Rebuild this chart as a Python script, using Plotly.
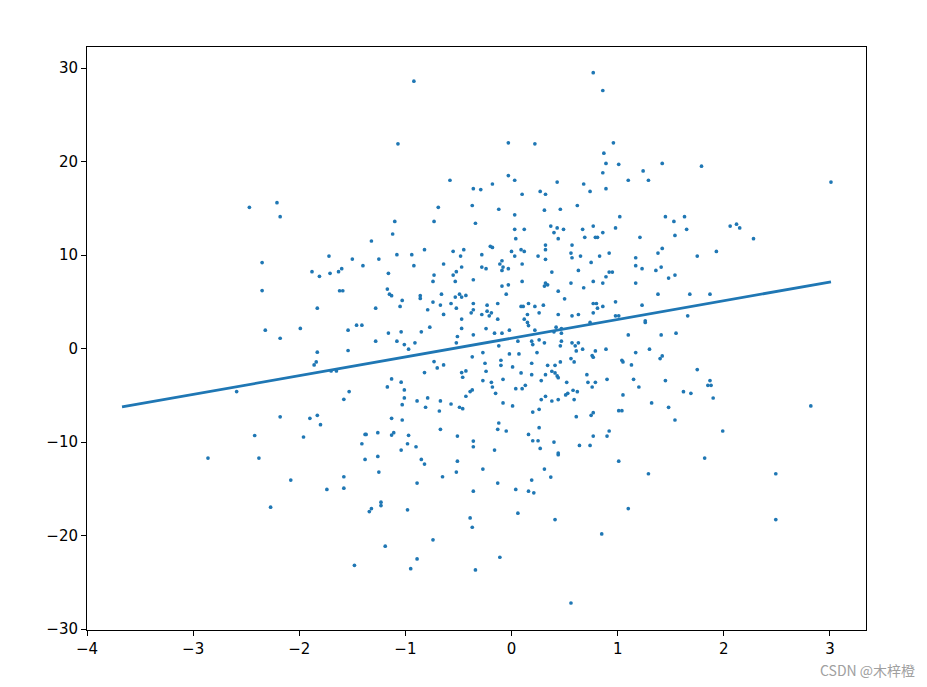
import plotly.graph_objects as go

# scatter samples (x, y kept in the same order)
x_vals = [
    -2.47, -2.21, -2.18,
    -0.92, -1.07, -0.58, -0.36, -0.69, -0.37, -1.10, -0.73, -0.34, -1.12, -1.32,
    0.77, 0.86, -0.03, 0.22, 0.96, 0.87, 0.89, 1.01, 1.42, 0.86,
    1.24, -0.03, 0.03, -0.18, -0.29, 0.43, 0.68, 1.10, 1.29, 0.10,
    0.27, 0.32, 0.74, 0.89, -0.12, 0.03, 0.31, 0.46, 0.62, 1.02,
    1.45, 0.03, 0.12, 0.37, 0.43, 0.40, 0.49, 0.67, 0.77, 0.86,
    0.98, 0.04, 0.44, 0.69, 0.79, 0.81, 1.21,
    1.79, 3.01, 1.53, 1.63, 1.65, 1.54, 2.06, 2.12, 2.15, 2.28,
    -2.35, -2.35, -2.32, -2.18, -2.59, -2.18, -2.42,
    -1.72, -1.50, -1.25, -1.08, -0.94, -0.82, -0.55, -0.45, -0.48, -1.88,
    -1.81, -1.71, -1.63, -1.60, -1.40, -1.16, -0.92, -0.64, -0.73, -0.74,
    -0.47, -0.52, -0.55, -0.53, -0.36, -1.62, -1.59, -1.17, -1.15, -1.13,
    -0.86, -0.86, -0.66, -0.49, -0.47, -0.53, -0.43, -1.03, -1.05, -0.74,
    -0.67, -0.57, -0.36, -0.52, -0.79, -0.64, -1.83, -1.28, -0.36, -0.38,
    -0.47, -0.47, -1.46, -1.41, -1.99, -1.54, -1.16, -1.04, -0.85, -0.77,
    -0.51, -1.28, -1.08, -1.01, -0.91, -0.52, -0.97, -1.83, -1.54, -0.36,
    -1.84, -1.86, -0.37, -0.73, -0.70, -0.64, -0.43, -0.47, -0.46, -0.82,
    -1.70, -1.65, -1.13, -1.04, -1.17, -1.01, -1.01, -1.03, -1.53, -1.58,
    -0.89, -0.79, -0.67, -0.57, -0.49, -0.46, -0.81, -0.68, -0.37, -0.39,
    -0.43, -1.90, -1.83, -1.80, -1.13, -1.03, -0.67, -1.38, -1.37, -1.26,
    -1.13, -1.11, -0.97, -0.51, -1.96,
    -0.20, -0.18, 0.32, 0.57, -0.28, 0.00, 0.03, 0.09, 0.12, 0.25,
    0.32, 0.56, 0.57, 0.65, 0.83, 0.92, 1.17, 1.38, 1.42, 0.32,
    -0.09, 0.75, -0.11, -0.08, -0.03, -0.09, -0.28, -0.24, 0.10, 0.38,
    0.63, 1.17, 1.23, 1.36, 1.41, 0.92, 0.95, 0.89, 1.48, 0.77,
    0.56, 0.86, 0.68, 1.17, 0.32, 0.34, 0.31, -0.03, -0.09, 0.10,
    -0.05, 0.44, 0.50, 1.38, 0.98, 0.77, 0.80, 0.86, 0.81, 1.23,
    -0.13, -0.23, 0.09, 0.11, 0.16, 0.22, 0.30, 0.26, -0.23, -0.28,
    -0.21, -0.19, 0.44, 0.57, 0.63, 0.77, 0.15, -0.13, 0.12, 0.15,
    0.16, -0.24, -0.02, 0.22, -0.16, -0.09, 0.98, 1.01, 1.26, 1.26,
    1.10, 1.41, 0.42, 0.47, 0.40, 0.47, 0.74, 0.06, 0.19, 0.20,
    0.26, 0.31, 0.46, 0.47, 0.57, 0.63, 0.60, 0.61, 0.67, -0.12,
    -0.27, -0.02, 0.07, 0.24, 0.79, 0.89, 1.30, 1.17, 0.76, 0.77,
    1.42, 1.40, -0.10, -0.10, -0.25, 0.19, 0.34, 0.41, 0.46, 0.56,
    0.59, 1.04, 1.05, 1.13, 0.01, -0.24, 0.09, 0.19, 0.32, 0.38,
    0.41, 0.43, 0.44, 0.71, 0.90, 1.15, 1.45, -0.08, -0.27, -0.19,
    0.28, 0.52, 0.72, 0.79, -0.18, -0.15, 0.04, 0.10, 0.13, 0.76,
    0.53, 0.51, 0.58, 0.62, 1.05, 1.20, 0.32, 0.28, 0.38, 0.44,
    0.59, 1.32, 1.48, -0.08, 0.01, 0.26, 0.20, 0.61, 0.75, 0.77,
    1.01, 1.04, -0.12, -0.13, -0.05, 0.26, 0.16, 0.77, 0.92, 0.90,
    1.75, 1.93, 1.54, 1.68, 1.87, 1.66, 1.55, 1.75, 1.87, 1.85,
    1.88, 1.62, 1.69, 1.90, 2.82, 1.54, 1.99,
    -2.86, -2.38, -2.27,
    -1.41, -0.98, -0.90, -1.04, -0.36, -0.36, -1.38, -1.26, -0.85, -0.82,
    -0.51, -0.52, -1.25, -2.08, -1.58, -1.58, -1.74, -0.65, -0.89, -0.36,
    -1.23, -1.23, -1.32, -1.34, -0.98, -0.39, -0.37, -0.74, -1.19, -0.89,
    -1.48, -0.95, -0.34,
    0.20, 0.25, 0.40, 0.64, 0.74, -0.16, 0.27, 0.44, 0.44, 1.01,
    1.29, -0.27, 0.31, 0.37, 0.19, -0.13, 0.04, 0.16, 0.21, 1.10,
    0.06, 0.41, 0.85, -0.11, 0.56,
    1.82, 2.49, 2.49,
]
y_vals = [
    15.1, 15.6, 14.1,
    28.6, 21.9, 18.0, 17.1, 15.1, 15.3, 13.6, 13.6, 13.4, 12.25, 11.5,
    29.5, 27.6, 22.0, 21.9, 22.0, 20.9, 19.8, 19.7, 19.8, 18.8,
    19.0, 18.5, 18.0, 17.6, 17.0, 17.8, 17.6, 18.0, 18.0, 16.5,
    16.8, 16.5, 16.8, 17.1, 14.9, 14.3, 14.8, 14.9, 15.3, 14.1,
    14.1, 12.75, 12.75, 13.1, 12.9, 12.4, 12.75, 12.75, 13.1, 12.4,
    12.9, 11.75, 11.75, 11.9, 11.9, 11.9, 11.9,
    19.5, 17.8, 13.6, 14.1, 12.75, 12.1, 13.1, 13.3, 12.9, 11.75,
    9.2, 6.2, 1.96, 1.1, -4.6, -7.3, -9.3,
    9.89, 9.57, 9.57, 10.04, 10.04, 10.57, 10.40, 10.57, 9.89, 8.22,
    7.72, 8.04, 8.22, 8.54, 8.86, 8.04, 8.86, 9.04, 7.86, 7.18,
    8.72, 8.22, 7.86, 7.18, 7.36, 6.18, 6.18, 6.36, 5.82, 5.65,
    5.65, 5.36, 5.82, 5.82, 5.5, 5.5, 5.68, 5.15, 4.5, 4.97,
    4.65, 4.82, 4.82, 4.32, 4.15, 3.65, 4.32, 4.32, 4.15, 3.82,
    3.15, 2.15, 2.5, 2.5, 2.15, 1.97, 1.65, 1.79, 1.79, 2.29,
    1.29, 0.79, 0.79, 0.43, 0.61, 0.61, -0.07, -0.39, -0.21, 1.47,
    -1.43, -1.75, -0.89, -1.39, -2.07, -1.75, -2.39, -2.57, -3.07, -2.57,
    -2.39, -2.39, -3.25, -3.6, -4.1, -4.43, -5.28, -6.0, -4.6, -5.43,
    -5.6, -5.28, -5.6, -5.93, -6.28, -6.43, -6.28, -6.68, -4.43, -4.6,
    -5.1, -7.46, -7.14, -8.14, -7.46, -7.64, -8.64, -9.18, -9.18, -9.0,
    -9.25, -9.0, -9.28, -9.36, -9.46,
    10.93, 10.82, 11.07, 11.07, 10.04, 10.39, 9.89, 10.57, 10.39, 9.89,
    10.57, 10.21, 9.71, 9.89, 9.89, 10.21, 9.71, 10.21, 10.71, 9.54,
    9.39, 9.21, 9.04, 8.71, 8.54, 8.36, 8.71, 8.54, 9.04, 8.18,
    8.36, 8.86, 8.54, 8.36, 8.71, 8.18, 8.18, 7.68, 7.54, 7.18,
    7.0, 7.0, 6.5, 7.0, 7.0, 6.82, 6.68, 6.82, 6.68, 7.18,
    5.82, 6.14, 5.32, 5.82, 5.0, 4.82, 4.82, 4.5, 4.32, 4.64,
    4.82, 4.64, 4.5, 4.5, 4.82, 4.5, 4.64, 3.82, 4.0, 3.64,
    3.5, 3.82, 3.64, 3.5, 3.64, 3.82, 3.64, 3.14, 3.14, 2.79,
    2.46, 2.14, 1.96, 1.96, 1.64, 1.64, 3.5, 3.5, 2.96, 2.79,
    1.46, 1.46, 2.29, 2.14, 1.79, 1.64, 2.79, 0.79, 0.79, 0.43,
    0.93, 0.61, 0.29, 0.79, 0.61, 0.61, 0.29, -0.25, -0.07, 0.29,
    -0.43, -0.57, -0.57, -0.43, -0.25, -0.07, -0.07, -0.43, -0.75, -0.93,
    -0.79, -1.07, -1.25, -1.79, -1.57, -1.57, -1.79, -1.79, -1.43, -1.07,
    -1.43, -1.25, -1.43, -1.75, -1.96, -2.43, -2.61, -2.79, -2.79, -2.43,
    -2.61, -2.93, -3.11, -2.79, -3.29, -3.29, -3.43, -3.29, -3.43, -3.61,
    -3.43, -3.61, -3.61, -3.61, -4.11, -4.79, -4.29, -4.29, -3.93, -4.11,
    -4.79, -4.96, -4.46, -4.61, -4.96, -4.11, -5.11, -5.46, -5.61, -5.46,
    -5.46, -5.82, -6.29, -5.82, -6.14, -6.5, -6.79, -7.29, -7.14, -6.86,
    -6.64, -6.64, -7.96, -8.64, -8.82, -8.46, -9.18, -9.36, -8.82, -9.36,
    9.89, 10.39, 7.86, 5.82, 5.82, 3.5, 1.64, -2.25, -3.43, -3.93,
    -3.93, -4.61, -4.79, -5.29, -6.14, -7.64, -8.82,
    -11.71, -11.71, -16.96,
    -10.18, -10.18, -10.5, -10.86, -9.89, -10.5, -11.86, -11.54, -11.86, -12.36,
    -12.04, -13.21, -13.21, -14.07, -13.71, -14.93, -15.07, -13.71, -14.39, -15.25,
    -16.43, -16.79, -17.11, -17.43, -17.25, -18.11, -19.11, -20.46, -21.14, -22.5,
    -23.18, -23.54, -23.68,
    -9.86, -9.86, -10.0, -10.36, -10.36, -10.86, -10.68, -11.18, -11.36, -12.04,
    -13.39, -12.89, -12.89, -13.75, -14.07, -14.39, -15.07, -15.25, -15.43, -17.11,
    -17.61, -18.29, -19.82, -22.32, -27.21,
    -11.71, -13.39, -18.29,
]
assert len(x_vals) == len(y_vals)

# fitted line end points
line_x = [-3.67, 3.01]
line_y = [-6.25, 7.14]

x_ticks = [-4, -3, -2, -1, 0, 1, 2, 3]
y_ticks = [-30, -20, -10, 0, 10, 20, 30]

blue = '#1f77b4'

fig = go.Figure()
fig.add_trace(go.Scatter(
    x=x_vals, y=y_vals, mode='markers',
    marker=dict(size=3.7, color=blue, line=dict(width=0)),
    showlegend=False,
))
fig.add_trace(go.Scatter(
    x=line_x, y=line_y, mode='lines',
    line=dict(color=blue, width=2.8),
    showlegend=False,
))

axis_style = dict(
    showgrid=False, zeroline=False,
    showline=True, linecolor='black', linewidth=1, mirror=True,
    ticks='outside', ticklen=5, tickwidth=1, tickcolor='black',
    tickfont=dict(family='DejaVu Sans', size=15, color='black'),
)
fig.update_xaxes(range=[-4.0, 3.34], tickmode='array', tickvals=x_ticks, **axis_style)
fig.update_yaxes(range=[-30.1, 32.25], tickmode='array', tickvals=y_ticks, **axis_style)

fig.add_annotation(
    text='CSDN @木梓橙', xref='paper', yref='paper',
    x=1.0655, y=-0.0686, xanchor='right', yanchor='middle',
    showarrow=False,
    font=dict(family='Noto Sans CJK SC', size=14, color='#a0a0a0'),
)

# the page body adds an 8px margin, so the figure is a little smaller
fig.update_layout(
    width=911, height=671,
    margin=dict(l=79, r=53, t=39, b=49),
    plot_bgcolor='white', paper_bgcolor='white',
)

fig.write_html("out.html")
